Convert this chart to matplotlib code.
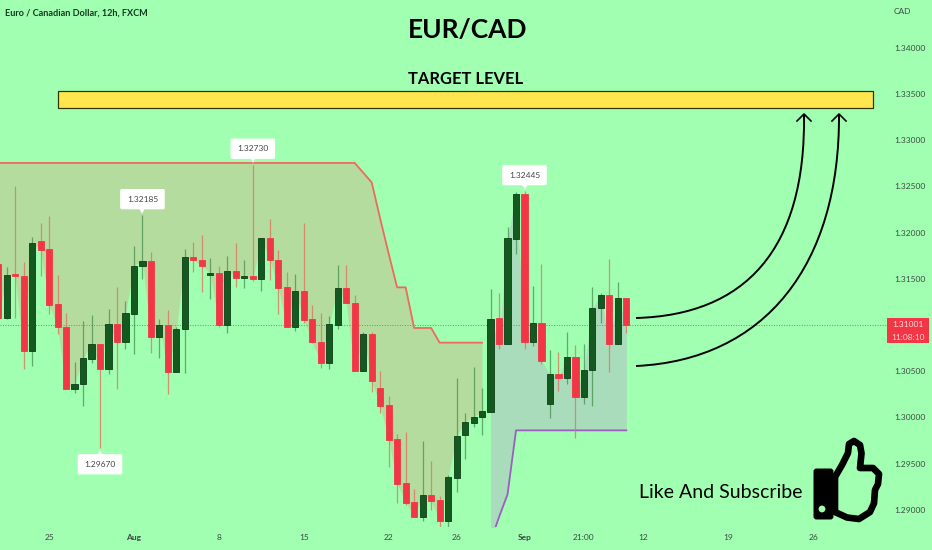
#recreates the EUR/CAD 12h chart with the target level and the like and subscribe icon

import numpy as np
import matplotlib
matplotlib.use("Agg")
import matplotlib.pyplot as plt
from matplotlib.patches import Rectangle, PathPatch, Circle, FancyBboxPatch, Polygon
from matplotlib.path import Path

# ============================
# DATA
# ============================
candle_open = [
    1.31656, 1.31072, 1.31548, 1.31533, 1.30719, 1.31905, 1.31822, 1.31227, 1.30978, 1.30312,
    1.30358, 1.30636, 1.30791, 1.30528, 1.31007, 1.30816, 1.31123, 1.31638, 1.31696, 1.30867,
    1.30996, 1.30495, 1.30953, 1.31735, 1.31703, 1.31541, 1.31562, 1.31004, 1.31587, 1.31512,
    1.31530, 1.31494, 1.31937, 1.31703, 1.31407, 1.30978, 1.31364, 1.31061, 1.30820, 1.30593,
    1.31000, 1.31400, 1.31241, 1.30503, 1.30903, 1.30319, 1.30131, 1.29764, 1.29292, 1.29086,
    1.28928, 1.29166, 1.29104, 1.28884, 1.29349, 1.29814, 1.29944, 1.30002, 1.30063, 1.31072,
    1.30798, 1.31933, 1.32413, 1.30816, 1.31025, 1.30146, 1.30470, 1.30431, 1.30650, 1.30225,
    1.30513, 1.31184, 1.31321, 1.30798, 1.31292]
candle_close = [
    1.31072, 1.31544, 1.31530, 1.30715, 1.31883, 1.31815, 1.31220, 1.30978, 1.30312, 1.30362,
    1.30640, 1.30791, 1.30528, 1.31007, 1.30816, 1.31126, 1.31642, 1.31696, 1.30867, 1.30996,
    1.30495, 1.30953, 1.31732, 1.31703, 1.31638, 1.31559, 1.31000, 1.31587, 1.31512, 1.31530,
    1.31494, 1.31937, 1.31703, 1.31404, 1.30975, 1.31364, 1.31058, 1.30816, 1.30593, 1.31007,
    1.31400, 1.31234, 1.30503, 1.30903, 1.30395, 1.30124, 1.29760, 1.29284, 1.29079, 1.28928,
    1.29166, 1.29097, 1.28884, 1.29353, 1.29800, 1.29951, 1.30005, 1.30070, 1.31068, 1.30798,
    1.31937, 1.32413, 1.30816, 1.31025, 1.30611, 1.30470, 1.30431, 1.30650, 1.30225, 1.30513,
    1.31184, 1.31321, 1.30798, 1.31292, 1.31001]
candle_high = [
    1.31680, 1.31623, 1.32503, 1.31678, 1.31955, 1.32106, 1.32179, 1.31537, 1.31133, 1.30600,
    1.31043, 1.31105, 1.30791, 1.31177, 1.31411, 1.31256, 1.31854, 1.32185, 1.31789, 1.31068,
    1.31162, 1.30982, 1.31818, 1.31901, 1.31973, 1.31724, 1.31638, 1.31746, 1.31883, 1.31703,
    1.32730, 1.31937, 1.32146, 1.31811, 1.31569, 1.31551, 1.32099, 1.31216, 1.31126, 1.31097,
    1.31649, 1.31652, 1.31324, 1.30928, 1.30924, 1.30499, 1.30232, 1.29821, 1.29843, 1.29227,
    1.29746, 1.29526, 1.29151, 1.29378, 1.30431, 1.30045, 1.30550, 1.30315, 1.31389, 1.31346,
    1.32063, 1.32442, 1.32445, 1.31422, 1.31656, 1.30730, 1.30712, 1.30924, 1.30784, 1.30795,
    1.31407, 1.31342, 1.31714, 1.31461, 1.31296]
candle_low = [
    1.31036, 1.31061, 1.31079, 1.30521, 1.30557, 1.31533, 1.31115, 1.30899, 1.30304, 1.30261,
    1.30124, 1.30593, 1.29670, 1.30467, 1.30304, 1.30744, 1.30683, 1.31494, 1.30701, 1.30640,
    1.30254, 1.30488, 1.30477, 1.31577, 1.31360, 1.31285, 1.30982, 1.30917, 1.31414, 1.31404,
    1.31479, 1.31371, 1.31490, 1.31119, 1.30975, 1.30932, 1.31025, 1.30802, 1.30539, 1.30528,
    1.30953, 1.31234, 1.30503, 1.30503, 1.30272, 1.30045, 1.29468, 1.29079, 1.29050, 1.28921,
    1.28884, 1.29000, 1.28820, 1.28820, 1.29198, 1.29555, 1.29901, 1.29814, 1.30063, 1.30741,
    1.30798, 1.31768, 1.30737, 1.30769, 1.30578, 1.29998, 1.30290, 1.30358, 1.29775, 1.30146,
    1.30128, 1.31018, 1.30495, 1.30798, 1.30917]

# red line above the candles, candles 0-57
upper_line = [1.32752] * 43 + [1.32647, 1.32542, 1.32150, 1.31771, 1.31407, 1.31407,
                               1.30968, 1.30968, 1.30968] + [1.30809] * 6
# purple line below the candles, candles 58-74
lower_line = [1.28661, 1.28924, 1.29169] + [1.29861] * 14

price_ticks = [1.29, 1.295, 1.30, 1.305, 1.31, 1.315, 1.32, 1.325, 1.33, 1.335, 1.34]
time_tick_pos = [6, 16, 26, 36, 46, 54, 62, 69, 76, 86, 96]
time_tick_labels = ["25", "Aug", "8", "15", "22", "26", "Sep", "21:00", "12", "19", "26"]

# candle index, price, 1 = box above the point
peak_index = [17, 30, 62, 12]
peak_price = [1.32185, 1.32730, 1.32445, 1.29670]
peak_above = [1, 1, 1, 0]

last_price = 1.31001
countdown = "11:08:10"

# ============================
# COLOURS
# ============================
bg = "#a0ffb0"
up_body = "#14591f"
up_edge = "#0d3f16"
down_body = "#f23645"
text_gray = "#3c4a42"
font = "Lato"

# ============================
# FIGURE
# ============================
W, H = 932, 550
plot_right = 887
plot_bottom = 527
fig = plt.figure(figsize=(W / 100, H / 100), dpi=100, facecolor=bg)
ax = fig.add_axes([0, (H - plot_bottom) / H, plot_right / W, plot_bottom / H], facecolor=bg)

idx = np.arange(len(candle_close))
o = np.array(candle_open)
c = np.array(candle_close)
hi = np.array(candle_high)
lo = np.array(candle_low)
up = c >= o

# bands first, candles go on top
ax.fill_between(idx[:58], upper_line, c[:58], color="#b4dc9e", lw=0, zorder=1)
ax.fill_between(idx[58:], c[58:], lower_line, color="#a9dcbb", lw=0, zorder=1)
ax.plot(idx[:58], upper_line, color="#ee6a5e", lw=1.3, zorder=2)
ax.plot(idx[58:], lower_line, color="#9c5fc0", lw=1.3, zorder=2)

# last price line
ax.axhline(last_price, color="#e0604a", lw=0.7, ls=(0, (1, 1.6)), zorder=2)

# wicks
ax.vlines(idx[up], lo[up], hi[up], color="#3f8a4a", lw=0.9, alpha=0.7, zorder=3)
ax.vlines(idx[~up], lo[~up], hi[~up], color="#e0705a", lw=0.9, alpha=0.75, zorder=3)

# bodies
ax.bar(idx[up], (c - o)[up], bottom=o[up], width=0.72, color=up_body,
       edgecolor=up_edge, lw=0.6, zorder=4)
ax.bar(idx[~up], (o - c)[~up], bottom=c[~up], width=0.72, color=down_body,
       edgecolor=down_body, lw=0.6, zorder=4)

# high / low labels
for i, p, above in zip(peak_index, peak_price, peak_above):
    ax.annotate(f"{p:.5f}", xy=(i, p), xytext=(0, 11.7 if above else -11.7),
                textcoords="offset points", ha="center", va="center",
                fontsize=6, family=font, color="#444444", zorder=6,
                bbox=dict(boxstyle="round,pad=0.8,rounding_size=0.2", fc="white", ec="none"))
    ax.plot([i], [p], marker="v" if above else "^", ms=6, color="white", mew=0,
            zorder=6, transform=ax.transData + matplotlib.transforms.ScaledTranslation(
                0, (4 if above else -4) / 72, fig.dpi_scale_trans))

# axes, x pixel = -1.87 + 8.49 * index, y from the tick labels
ax.set_xlim(1.87 / 8.49, (plot_right + 1.87) / 8.49)
ax.set_ylim(1.29 + (510 - plot_bottom) / 9250, 1.29 + 510 / 9250)
for s in ax.spines.values():
    s.set_visible(False)
ax.yaxis.tick_right()
ax.set_yticks(price_ticks)
ax.set_yticklabels([f"{t:.5f}" for t in price_ticks])
ax.set_xticks(time_tick_pos)
ax.set_xticklabels(time_tick_labels)
ax.tick_params(axis="both", length=0, labelsize=6, labelcolor=text_gray)
ax.tick_params(axis="y", pad=5)
ax.tick_params(axis="x", pad=5)
for lab in ax.get_xticklabels() + ax.get_yticklabels():
    lab.set_family(font)
for lab in ax.get_xticklabels():
    if lab.get_text() in ("Aug", "Sep"):
        lab.set_fontweight("bold")

# ============================
# DRAWINGS, IN IMAGE PIXELS
# ============================
over = fig.add_axes([0, 0, 1, 1], facecolor="none")
over.set_xlim(0, W)
over.set_ylim(H, 0)
over.axis("off")

over.text(5, 13.5, "Euro / Canadian Dollar, 12h, FXCM", fontsize=6.6, family=font,
          color="#14391f", va="center", fontweight="bold")
over.text(902, 11, "CAD", fontsize=6, family=font, color=text_gray, va="center", ha="center")
over.text(467.5, 30, "EUR/CAD", fontsize=19, family=font, fontweight="bold",
          color="black", ha="center", va="center")
over.text(465.5, 79, "TARGET LEVEL", fontsize=11.9, family=font, fontweight="bold",
          color="black", ha="center", va="center")
over.text(720.5, 492, "Like And Subscribe", fontsize=14, family=font,
          color="black", ha="center", va="center")

# target zone
over.add_patch(Rectangle((58, 91.3), 815, 17, fc="#ffe64f", ec="#333300", lw=0.9))

# arrows to the target zone
for pts, tip in [([(636, 318), (745, 315), (806, 250), (804, 114)], (804, 114)),
                 ([(636, 366), (765, 360), (840, 265), (839, 114)], (839, 114))]:
    path = Path(pts, [Path.MOVETO, Path.CURVE4, Path.CURVE4, Path.CURVE4])
    over.add_patch(PathPatch(path, fc="none", ec="black", lw=1.4))
    over.plot([tip[0] - 7, tip[0], tip[0] + 7], [tip[1] + 7, tip[1], tip[1] + 7],
              color="black", lw=1.2)

# last price tag
over.add_patch(Rectangle((887, 318), 42, 25, fc=down_body, ec="none"))
over.text(908, 324.5, f"{last_price:.5f}", color="#ffe0e0", fontsize=6, family=font,
          ha="center", va="center")
over.text(908, 337, countdown, color="#ffd0d0", fontsize=6, family=font,
          ha="center", va="center")

# thumbs up
thumb = [(835, 477), (842, 465), (848, 453), (849, 444), (854, 441), (860, 445),
         (861.5, 453.3), (860, 468), (873, 468), (879, 474), (878, 484),
         (875, 490), (874, 503.3), (870, 512), (859, 519), (847, 517.5),
         (835, 512)]
over.add_patch(Polygon(thumb, closed=True, fc=bg, ec="black", lw=4.8, joinstyle="round"))
over.add_patch(FancyBboxPatch((815, 470), 17, 48, boxstyle="round,pad=1.5,rounding_size=3",
                              fc="black", ec="none"))
over.add_patch(Circle((822, 509), 3.4, fc=bg, ec="none"))

fig.savefig("out.png", dpi=100, facecolor=bg)
